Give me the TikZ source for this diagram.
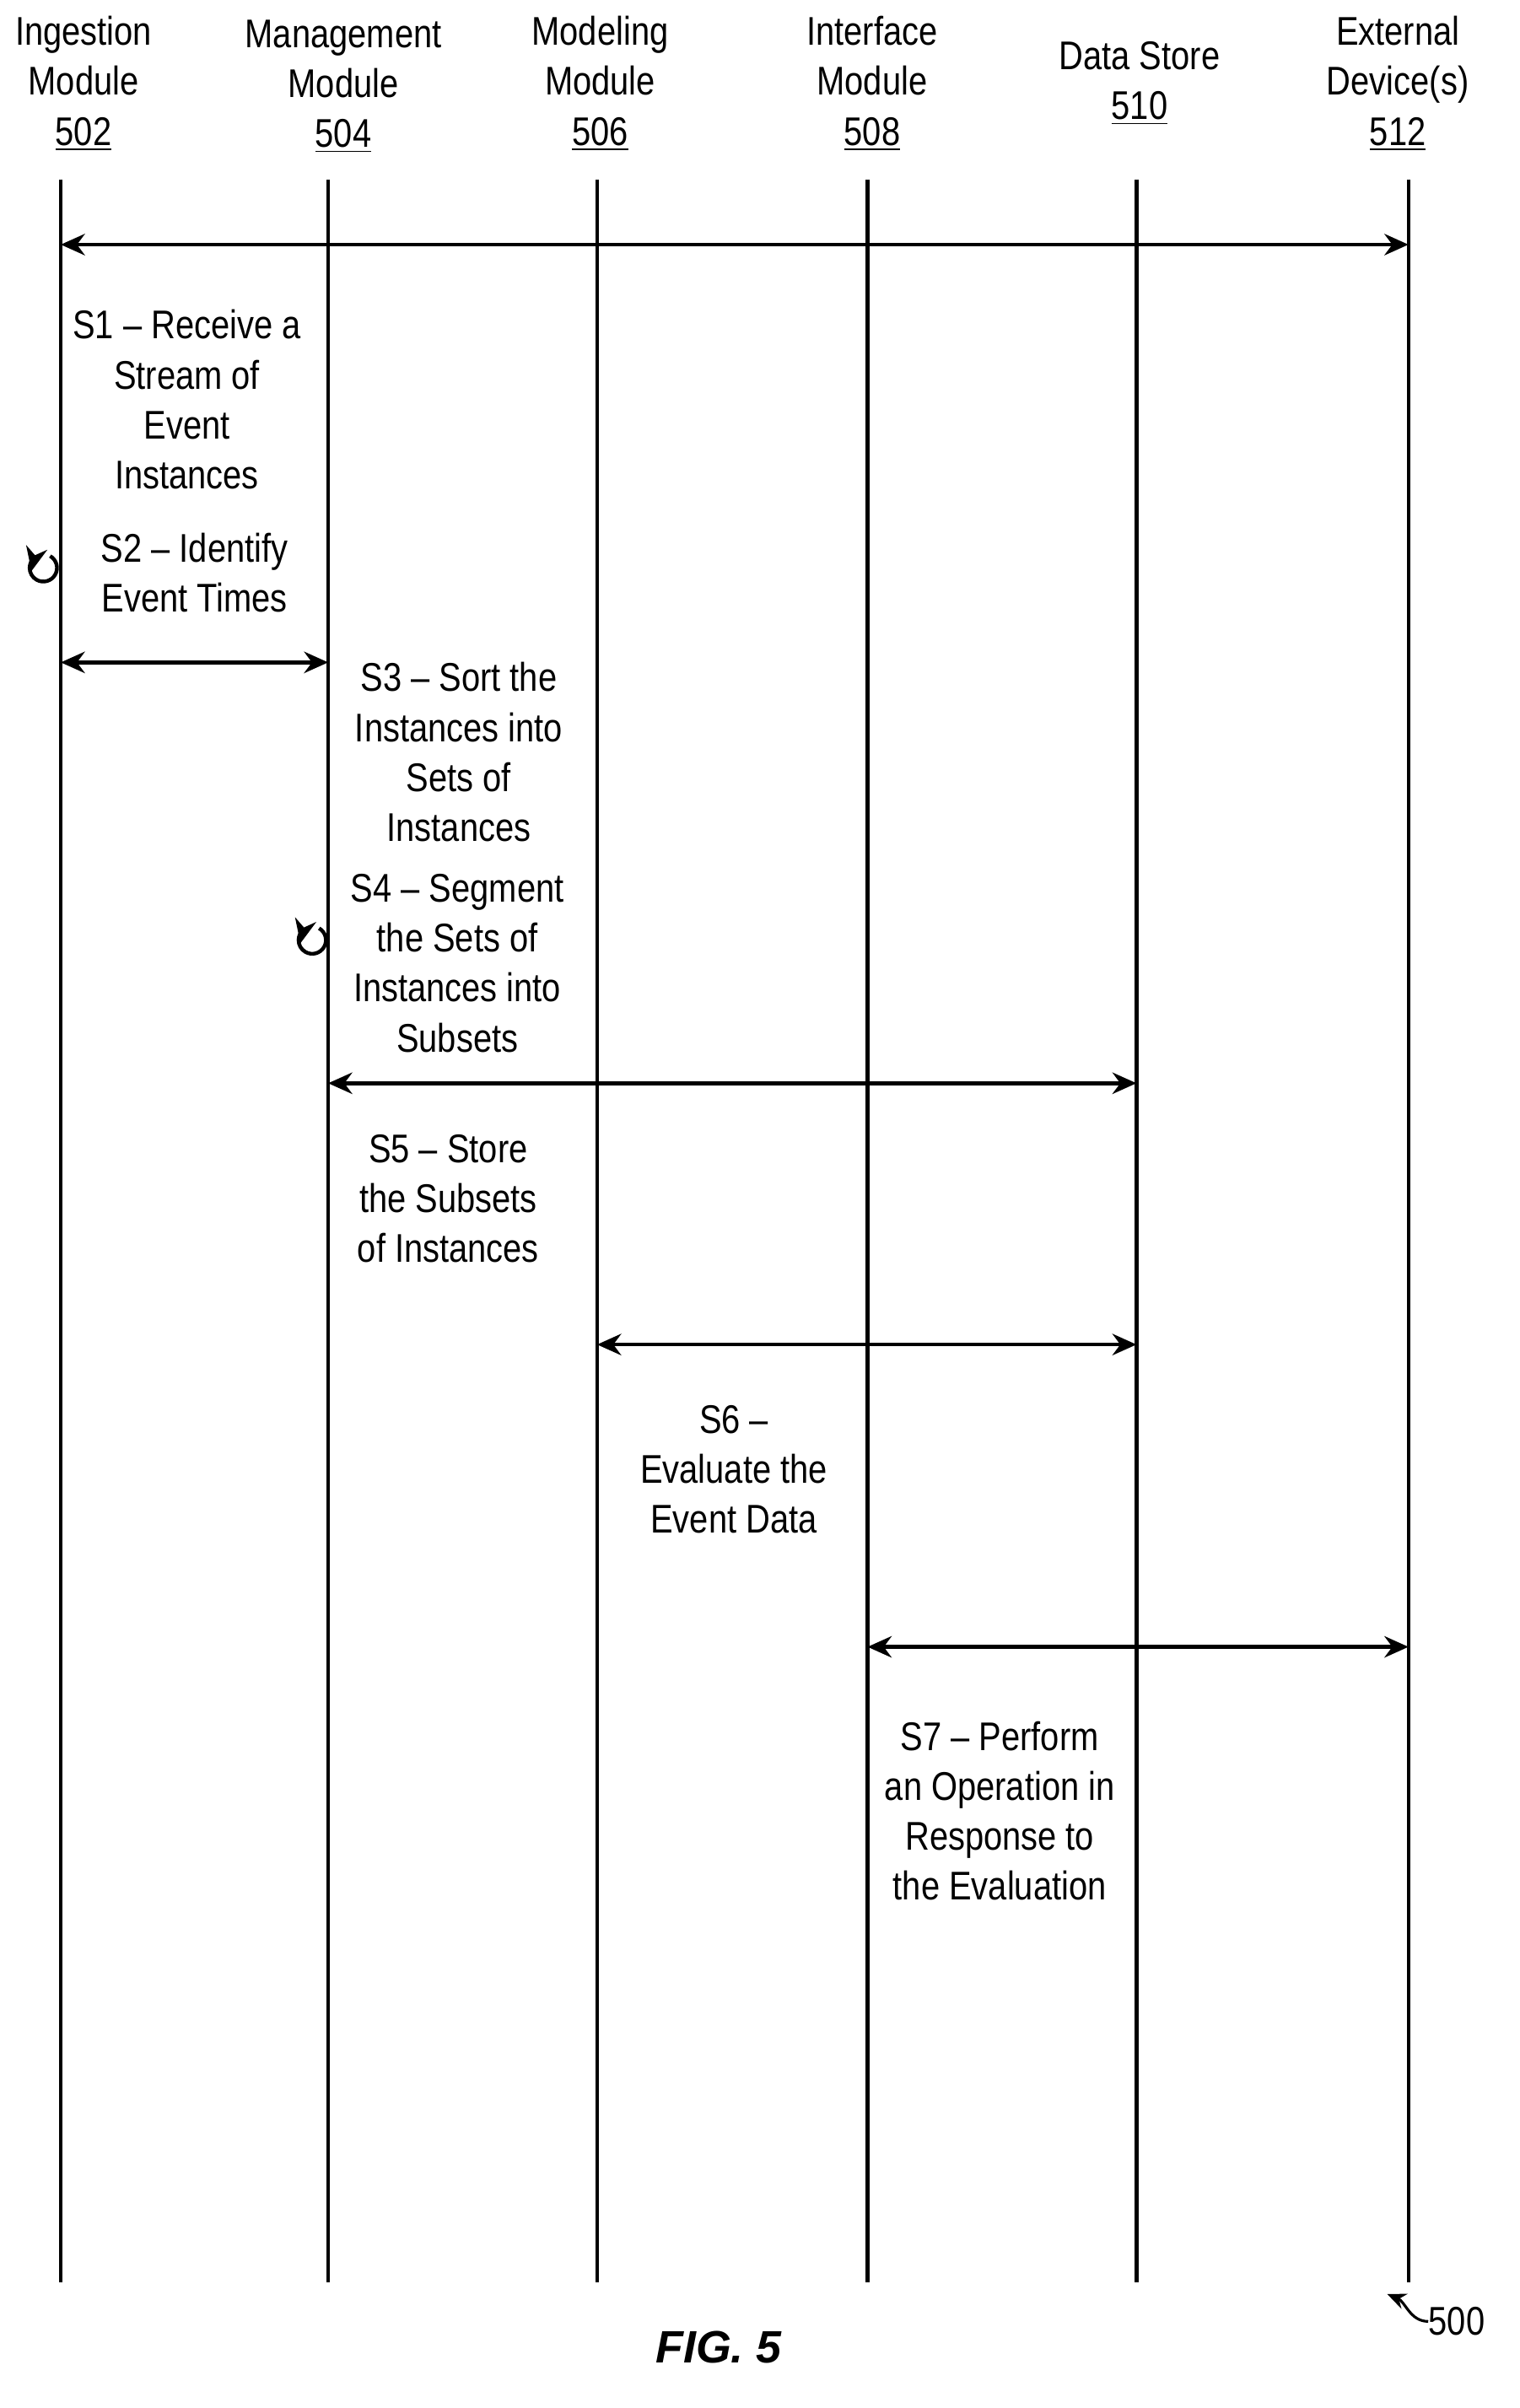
\documentclass[tikz,border=0pt]{standalone}
\usepackage{fontspec}
\setmainfont{Liberation Sans}
\usetikzlibrary{arrows.meta}
\begin{document}
\begin{tikzpicture}[x=0.02cm,y=-0.02cm]
  \tikzset{lbl/.style={font=\fontsize{15}{18.7}\selectfont, align=center, inner sep=0pt, xscale=0.84, transform shape},
    life/.style={line width=1.4pt},
    msg/.style={line width=1.4pt, {Stealth[length=9pt,width=8pt]}-{Stealth[length=9pt,width=8pt]}}}
  \useasboundingbox (0,0) rectangle (1000,1585);
  % lifelines
  \foreach \n/\x/\t in {a/40/Ingestion\\Module\\\underline{502}, b/216/Management\\Module\\\underline{504},
      c/393/Modeling\\Module\\\underline{506}, d/571/Interface\\Module\\\underline{508}, f/927/External\\Device(s)\\\underline{512}} {
    \coordinate (\n t) at (\x,118);
    \coordinate (\n b) at (\x,1502);
    \draw [life] (\n t) -- (\n b);
  }
  \coordinate (et) at (748,118);
  \coordinate (eb) at (748,1502);
  \draw [life] (et) -- (eb);
  \node [lbl] (ha) at (55,55) {Ingestion\\Module\\\underline{502}};
  \node [lbl] (hb) at (226,57) {Management\\Module\\\underline{504}};
  \node [lbl] (hc) at (395,55) {Modeling\\Module\\\underline{506}};
  \node [lbl] (hd) at (574,55) {Interface\\Module\\\underline{508}};
  \node [lbl] (he) at (750,55) {Data Store\\\underline{510}};
  \node [lbl] (hf) at (920,55) {External\\Device(s)\\\underline{512}};
  % messages
  \coordinate (m1a) at (40,161); \coordinate (m1b) at (927,161);
  \draw [msg] (m1a) -- (m1b);
  \coordinate (m2a) at (40,436); \coordinate (m2b) at (216,436);
  \draw [msg] (m2a) -- (m2b);
  \coordinate (m3a) at (216,713); \coordinate (m3b) at (748,713);
  \draw [msg] (m3a) -- (m3b);
  \coordinate (m4a) at (393,885); \coordinate (m4b) at (748,885);
  \draw [msg] (m4a) -- (m4b);
  \coordinate (m5a) at (571,1084); \coordinate (m5b) at (927,1084);
  \draw [msg] (m5a) -- (m5b);
  % self loops
  \draw [line width=1.4pt, -{Stealth[length=9pt,width=8pt]}] (33,366) arc (-60:230:9) -- ++(-2,9);
  \draw [line width=1.4pt, -{Stealth[length=9pt,width=8pt]}] (210,611) arc (-60:230:9) -- ++(-2,9);
  % steps
  \node [lbl] (s1) at (123,263) {S1 -- Receive a\\Stream of\\Event\\Instances};
  \node [lbl] (s2) at (128,377) {S2 -- Identify\\Event Times};
  \node [lbl] (s3) at (302,495) {S3 -- Sort the\\Instances into\\Sets of\\Instances};
  \node [lbl] (s4) at (301,634) {S4 -- Segment\\the Sets of\\Instances into\\Subsets};
  \node [lbl] (s5) at (295,789) {S5 -- Store\\the Subsets\\of Instances};
  \node [lbl] (s6) at (483,967) {S6 --\\Evaluate the\\Event Data};
  \node [lbl] (s7) at (658,1192) {S7 -- Perform\\an Operation in\\Response to\\the Evaluation};
  % figure label
  \node [font=\fontsize{17}{20}\selectfont\bfseries\itshape, inner sep=0pt] (fig) at (473,1545) {FIG. 5};
  \node [lbl, anchor=west] (ref) at (940,1528) {500};
  \coordinate (refa) at (913,1510);
  \draw [line width=1pt, -{Stealth[length=7pt,width=6pt]}] (ref.west) .. controls (928,1528) and (925,1515) .. (refa);
\end{tikzpicture}
\end{document}
